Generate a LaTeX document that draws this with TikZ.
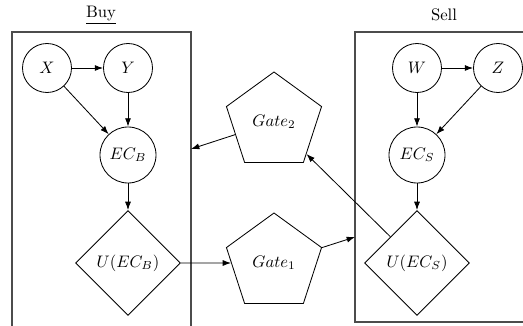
\documentclass[tikz,border=0pt]{standalone}
\usetikzlibrary{shapes.geometric,arrows.meta}
\begin{document}
\begin{tikzpicture}[x=0.6pt,y=-0.6pt,
  every node/.style={inner sep=0pt},
  var/.style={circle,draw,line width=0.5pt,minimum size=29.4pt},
  ecvar/.style={circle,draw,line width=0.5pt,minimum size=33.6pt},
  util/.style={diamond,draw,line width=0.5pt,minimum width=63pt,minimum height=63pt,aspect=1},
  gate/.style={regular polygon,regular polygon sides=5,draw,line width=0.5pt,minimum size=60pt},
  frame/.style={draw=black!70,line width=0.8pt},
  arr/.style={-{Latex[length=5pt,width=3.6pt]},line width=0.5pt}]
\useasboundingbox (0,0) rectangle (523,326);
\clip (0,0) rectangle (523,326);
% boxes
\draw[frame] (12,32) rectangle (191,330);
\draw[frame] (355,32) rectangle (530,322);
\node (buylabel) at (101,15) {\underline{Buy}};
\node (selllabel) at (444,15) {Sell};
% buy side
\node[var] (X) at (47,68) {$X$};
\node[var] (Y) at (128,68) {$Y$};
\node[ecvar] (ECB) at (128,155) {$EC_B$};
\node[util] (UB) at (128,263) {$U(EC_B)$};
% sell side
\node[var] (W) at (417,68) {$W$};
\node[var] (Z) at (498,68) {$Z$};
\node[ecvar] (ECS) at (417,155) {$EC_S$};
\node[util] (US) at (417,263) {$U(EC_S)$};
% gates
\node[gate] (G2) at (274,122) {$Gate_2$};
\node[gate] (G1) at (274,263) {$Gate_1$};
\coordinate (buyin) at (191,149);
\coordinate (sellin) at (355,237);
% arrows
\draw[arr] (X) -- (Y);
\draw[arr] (X) -- (ECB);
\draw[arr] (Y) -- (ECB);
\draw[arr] (ECB) -- (UB);
\draw[arr] (W) -- (Z);
\draw[arr] (W) -- (ECS);
\draw[arr] (Z) -- (ECS);
\draw[arr] (ECS) -- (US);
\draw[arr] (UB) -- (G1);
\draw[arr] (G1) -- (sellin);
\draw[arr] (US) -- (G2);
\draw[arr] (G2) -- (buyin);
\end{tikzpicture}
\end{document}
